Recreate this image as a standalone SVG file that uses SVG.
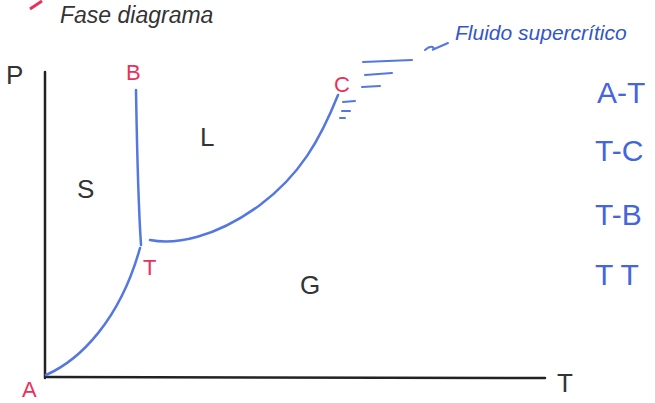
<svg xmlns="http://www.w3.org/2000/svg" width="655" height="403" viewBox="0 0 655 403">
<style>
.ax{stroke:#222;stroke-width:2.5;fill:none;stroke-linecap:round}
.cv{stroke:#5577e0;stroke-width:2.5;fill:none;stroke-linecap:round}
.hl{stroke:#5577e0;stroke-width:2;fill:none;stroke-linecap:round}
.red{fill:#e8325a;font-family:"Liberation Sans",sans-serif;font-size:22px}
.blk{fill:#333;font-family:"Liberation Sans",sans-serif;font-size:26px}
.blu{fill:#4466dd;font-family:"Liberation Sans",sans-serif;font-size:30px}
.note{fill:#3355cc;font-family:"Liberation Sans",sans-serif;font-size:21px;font-style:italic}
</style>
<rect width="655" height="403" fill="#fff"/>
<g id="title">
<path d="M30 9 L42 1" stroke="#e8325a" stroke-width="3" fill="none"/>
<text x="60" y="23" fill="#333" font-family="Liberation Sans, sans-serif" font-size="23" font-style="italic">Fase diagrama</text>
</g>
<g id="axes">
<path class="ax" d="M45 72 L45 378"/>
<path class="ax" d="M47 377 L545 378"/>
<text x="6" y="84" class="blk" font-size="22">P</text>
<text x="557" y="392" class="blk" font-size="22">T</text>
</g>
<g id="connectors">
<path class="cv" d="M46 375 C80 360 120 320 140 248"/>
<path class="cv" d="M141 245 C138 200 137 150 136 90"/>
<path class="cv" d="M150 240 C175 245 215 238 260 205 C300 175 320 140 338 95"/>
<path class="hl" d="M363 62 L412 60 M365 75 L392 73 M362 87 L380 86 M343 102 L355 101 M342 111 L350 111 M340 118 L345 118"/>
<path class="hl" d="M425 50 C432 44 436 48 432 50 L448 43"/>
</g>
<g id="A"><text x="22" y="397" class="red">A</text></g>
<g id="B"><text x="126" y="80" class="red">B</text></g>
<g id="C"><text x="334" y="92" class="red">C</text></g>
<g id="T"><text x="143" y="275" class="red">T</text></g>
<g id="S"><text x="77" y="198" class="blk">S</text></g>
<g id="L"><text x="200" y="146" class="blk">L</text></g>
<g id="G"><text x="300" y="294" class="blk">G</text></g>
<g id="fluido"><text x="455" y="40" class="note">Fluido supercrítico</text></g>
<g id="list">
<text x="597" y="103" class="blu">A-T</text>
<text x="595" y="161" class="blu">T-C</text>
<text x="595" y="225" class="blu">T-B</text>
<text x="595" y="285" class="blu">T T</text>
</g>
</svg>
